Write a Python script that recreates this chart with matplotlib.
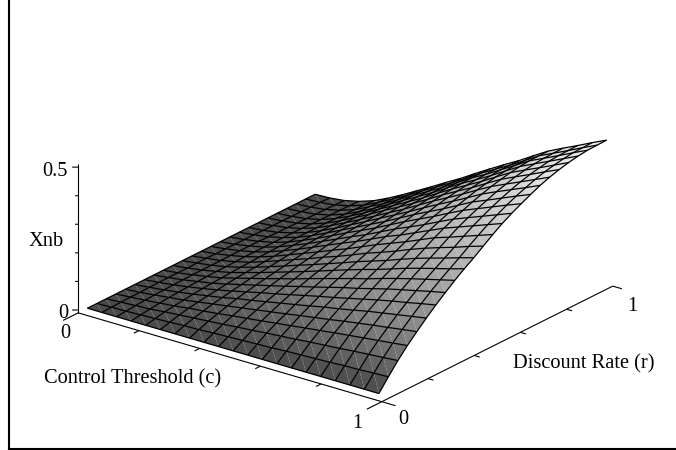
import numpy as np
import matplotlib
matplotlib.use("Agg")
import matplotlib.pyplot as plt
from matplotlib.colors import LinearSegmentedColormap, Normalize
from matplotlib.lines import Line2D

plt.rcParams['font.family'] = ['Liberation Serif', 'DejaVu Serif']

# grid of the surface (21 columns in c, 25 rows in r)
c_vals = np.linspace(0.0, 0.96, 21)
r_vals = np.linspace(0.04, 1.026, 25)

# Xnb, one row per r value, one column per c value
xnb = np.array([
    [0] * 21,
    [0, .002, .003, .005, .007, .009, .012, .013, .016, .018, .020, .022, .024, .027, .029, .031, .033, .036, .037, .040, .042],
    [0, .003, .006, .009, .014, .018, .022, .026, .030, .035, .039, .044, .048, .052, .057, .061, .065, .070, .074, .078, .082],
    [0, .004, .008, .013, .018, .025, .030, .036, .043, .049, .055, .062, .068, .075, .081, .088, .094, .100, .106, .112, .118],
    [0, .004, .010, .016, .022, .030, .038, .046, .054, .062, .070, .078, .087, .095, .103, .112, .120, .128, .135, .143, .150],
    [0, .005, .011, .018, .026, .035, .044, .055, .064, .074, .084, .094, .104, .115, .124, .134, .145, .154, .163, .172, .181],
    [0, .006, .012, .020, .029, .039, .050, .062, .074, .085, .097, .109, .121, .132, .144, .156, .168, .179, .189, .200, .210],
    [0, .006, .013, .022, .031, .043, .056, .069, .082, .095, .109, .122, .136, .150, .162, .176, .190, .202, .214, .226, .237],
    [0, .006, .014, .023, .033, .047, .061, .075, .090, .104, .120, .135, .150, .165, .179, .195, .210, .224, .237, .250, .263],
    [0, .006, .014, .024, .035, .050, .065, .081, .097, .113, .130, .147, .164, .180, .195, .212, .229, .244, .258, .272, .287],
    [0, .007, .014, .024, .037, .052, .069, .086, .104, .121, .139, .157, .176, .193, .210, .229, .247, .263, .278, .294, .309],
    [0, .007, .014, .025, .038, .055, .073, .092, .110, .130, .148, .168, .189, .207, .226, .247, .266, .283, .299, .317, .333],
    [0, .006, .015, .026, .040, .057, .077, .097, .117, .138, .158, .180, .202, .222, .242, .264, .286, .303, .321, .339, .357],
    [0, .007, .015, .026, .041, .060, .080, .102, .124, .146, .167, .190, .214, .234, .257, .280, .303, .322, .341, .360, .379],
    [0, .006, .015, .026, .042, .062, .083, .106, .129, .152, .174, .199, .224, .246, .269, .294, .318, .338, .358, .378, .398],
    [0, .006, .015, .026, .042, .063, .085, .109, .134, .157, .181, .207, .233, .257, .281, .307, .332, .353, .374, .395, .415],
    [0, .006, .014, .026, .042, .063, .087, .112, .137, .162, .187, .214, .241, .266, .291, .318, .345, .366, .388, .410, .431],
    [0, .005, .013, .026, .042, .064, .088, .114, .140, .167, .193, .220, .248, .275, .301, .328, .356, .379, .401, .423, .446],
    [0, .005, .013, .025, .042, .065, .090, .116, .143, .170, .197, .226, .255, .282, .309, .338, .366, .389, .412, .435, .458],
    [0, .005, .012, .024, .042, .065, .091, .118, .146, .173, .201, .230, .260, .288, .315, .345, .374, .398, .421, .445, .468],
    [0, .004, .011, .023, .041, .065, .091, .119, .147, .175, .203, .234, .264, .292, .320, .351, .381, .405, .428, .452, .476],
    [0, .004, .010, .022, .040, .064, .090, .119, .148, .176, .205, .236, .267, .295, .324, .355, .386, .410, .434, .458, .482],
    [0, .003, .010, .022, .039, .064, .090, .119, .148, .177, .206, .237, .269, .297, .327, .358, .389, .413, .437, .462, .486],
    [0, .003, .009, .021, .038, .063, .090, .118, .148, .177, .206, .237, .269, .298, .327, .358, .390, .414, .438, .463, .487],
    [0, .002, .008, .020, .037, .061, .088, .117, .146, .176, .205, .237, .268, .298, .327, .359, .390, .415, .439, .464, .488],
])

axis_ticks = [0, 0.2, 0.4, 0.6, 0.8, 1.0]
z_ticks = [0, 0.1, 0.2, 0.3, 0.4, 0.5]

W, H = 676, 450
fig = plt.figure(figsize=(W / 100, H / 100), dpi=100)

P = 700  # axes size in pixels
ax = fig.add_axes([-14 / W, -137.5 / H, P / W, P / H], projection='3d', computed_zorder=False)
ax.set_proj_type('ortho')
ax.view_init(elev=22.5, azim=-52.6)
ax.set_box_aspect((382.6, 380.6, 154.8), zoom=544.5 / P)
ax.set_xlim(0, 1, view_margin=0)
ax.set_ylim(0, 1, view_margin=0)
ax.set_zlim(0, 0.5, view_margin=0)
ax.set_axis_off()
ax.patch.set_alpha(0)

# surface, split in triangles like the original, grey follows height
C, R = np.meshgrid(c_vals, r_vals)
n = len(c_vals)
tris = []
for j in range(len(r_vals) - 1):
    for i in range(n - 1):
        a = j * n + i
        tris.append([a, a + 1, a + n])
        tris.append([a + 1, a + n + 1, a + n])
greys = LinearSegmentedColormap.from_list('g', [(0, (.29, .29, .29)), (.3, (.53, .53, .53)),
                                                (.6, (.71, .71, .71)), (1, (.94, .94, .94))])
surf = ax.plot_trisurf(C.ravel(), R.ravel(), xnb.ravel(), triangles=tris, cmap=greys,
                       norm=Normalize(0, 0.5), linewidth=0, antialiased=True, zorder=2)
ax.plot_wireframe(C, R, xnb, rstride=1, cstride=1, color='black', linewidth=0.9, zorder=3)

# hand drawn axes
axis_kw = dict(color='black', linewidth=0.8, zorder=1, solid_capstyle='butt')
ax.plot([0, 1], [0, 0], [0, 0], **axis_kw)
ax.plot([1, 1], [0, 1], [0, 0], **axis_kw)
ax.plot([0, 0], [0, 0], [0.0, 0.52], **axis_kw)
for t in axis_ticks:
    end = t in (0, 1.0)
    d = 0.065 if end else 0.022
    ax.plot([t, t], [0, -d], [0, 0], **axis_kw)
    d = 0.045 if t == 0 else 0.03 if end else 0.018
    ax.plot([1, 1 + d], [t, t], [0, 0], **axis_kw)
for t in z_ticks:
    s = 6 if t in (0, 0.5) else 3
    dr = s / 623
    ax.plot([0, -1.289 * dr], [0, -dr], [t + 0.01, t + 0.01], **axis_kw)

# frame on the left and bottom
fig.add_artist(Line2D([8.5 / W, 8.5 / W], [1.5 / H, 1], color='black', linewidth=1.5))
fig.add_artist(Line2D([8.5 / W, 1], [1.5 / H, 1.5 / H], color='black', linewidth=1.5))


def label(x, y, s, ha='center'):
    fig.text(x / W, 1 - y / H, s, ha=ha, va='center', fontsize=14.7, color='black')


label(68, 172, '0.5', ha='right')
label(68, 313.5, '0', ha='right')
label(46, 242, 'Xnb')
label(65, 334, '0')
label(44, 379, 'Control Threshold (c)', ha='left')
label(357, 424, '1')
label(403, 420, '0')
label(513, 364, 'Discount Rate (r)', ha='left')
label(632, 306.5, '1')

fig.savefig('out.png', dpi=100)
